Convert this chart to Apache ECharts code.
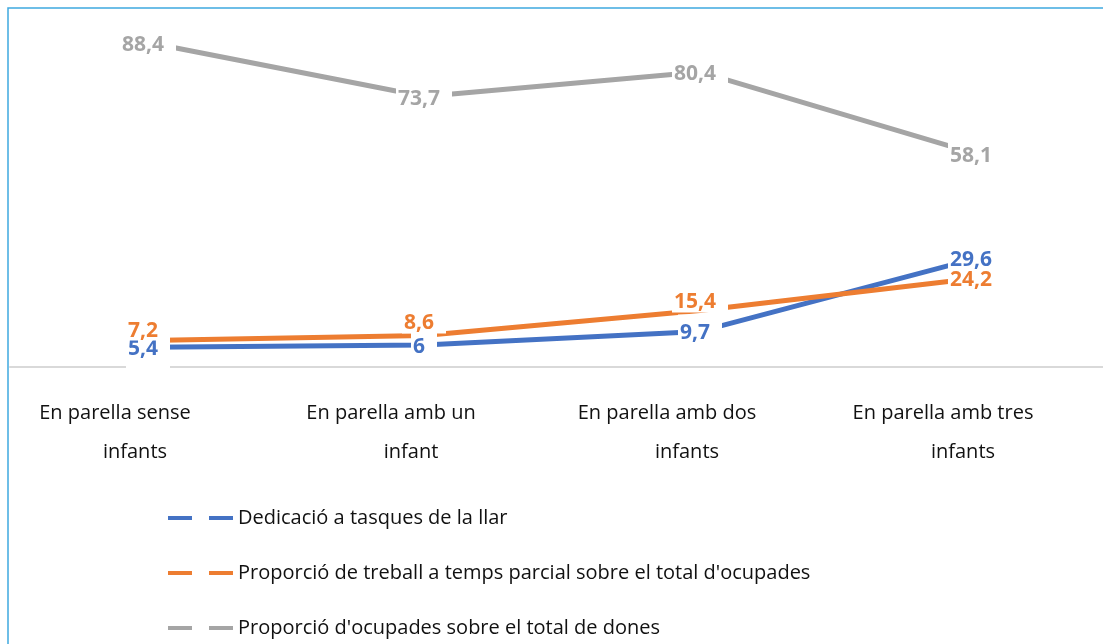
<!DOCTYPE html>
<html>
<head>
<meta charset="utf-8">
<script src="https://cdn.jsdelivr.net/npm/echarts@6/dist/echarts.min.js"></script>
<style>
  html, body { margin: 0; padding: 0; background: #fff; overflow: hidden; }
  .chart { width: 1114px; height: 644px; }
</style>
</head>
<body>
<div class="chart"></div>
<script>
// dades del gràfic
var categories = [
  ['En parella sense', 'infants'],
  ['En parella amb un', 'infant'],
  ['En parella amb dos', 'infants'],
  ['En parella amb tres', 'infants']
];
var seriesNames = [
  'Dedicació a tasques de la llar',
  "Proporció de treball a temps parcial sobre el total d'ocupades",
  "Proporció d'ocupades sobre el total de dones"
];
var tasquesLlar = [5.4, 6, 9.7, 29.6];
var tempsParcial = [7.2, 8.6, 15.4, 24.2];
var ocupades = [88.4, 73.7, 80.4, 58.1];

var colors = ['#4472C4', '#ED7D31', '#A5A5A5'];
var FONT = 'Open Sans';

var chart = echarts.init(document.getElementsByClassName('chart')[0]);

function fmt(v) {
  return String(v).replace('.', ',');
}

// línia sense etiquetes
function lineSeries(name, values, color) {
  return {
    name: name,
    type: 'line',
    z: 2,
    symbol: 'none',
    lineStyle: { color: color, width: 5 },
    itemStyle: { color: color },
    data: values,
    emphasis: { disabled: true }
  };
}

// etiquetes amb fons blanc, per sobre de totes les línies
function labelSeries(values, color, z, padding, offsets) {
  return {
    type: 'scatter',
    z: z,
    symbolSize: 1,
    itemStyle: { color: '#fff', opacity: 1 },
    silent: true,
    data: values.map(function (v, i) {
      var item = { value: v };
      if (offsets && offsets[i]) item.label = { offset: offsets[i] };
      return item;
    }),
    label: {
      show: true,
      position: 'inside',
      offset: [0, 2],
      color: color,
      opacity: 1,
      fontFamily: FONT,
      fontWeight: 'bold',
      fontSize: 21,
      lineHeight: 18,
      backgroundColor: '#fff',
      padding: padding,
      formatter: function (p) { return fmt(p.value); }
    },
    emphasis: { disabled: true }
  };
}

var option = {
  animation: false,
  graphic: [{
    type: 'rect',
    shape: { x: 8, y: 8, width: 1200, height: 700 },
    style: { fill: 'none', stroke: '#3FA9E0', lineWidth: 1.5 },
    silent: true
  }],
  grid: { left: 10, right: 0, top: 0, bottom: 277 },
  xAxis: {
    type: 'category',
    data: categories.map(function (c) { return c.join('\n'); }),
    boundaryGap: true,
    axisLine: { lineStyle: { color: '#D9D9D9', width: 2 } },
    axisTick: { show: false },
    axisLabel: {
      margin: 27,
      interval: 0,
      formatter: function (v) {
        var parts = v.split('\n');
        return '{a|' + parts[0] + '}\n{b|' + parts[1] + '}';
      },
      rich: {
        a: { fontFamily: FONT, fontSize: 20, color: '#111', lineHeight: 39, padding: [0, 66, 0, 0] },
        b: { fontFamily: FONT, fontSize: 20, color: '#111', lineHeight: 39, padding: [0, 26, 0, 0] }
      }
    }
  },
  yAxis: {
    type: 'value',
    min: 0,
    max: 100,
    show: false,
    splitLine: { show: false }
  },
  legend: {
    orient: 'vertical',
    left: 163,
    top: 501,
    height: 300,
    itemWidth: 65,
    itemHeight: 4,
    itemGap: 31,
    itemTextGap: 4,
    data: seriesNames.map(function (n) {
      return { name: n, icon: 'path://M0,0h24v4h-24z M41,0h24v4h-24z' };
    }),
    textStyle: { fontFamily: FONT, fontSize: 20, color: '#111', lineHeight: 24 }
  },
  series: [
    lineSeries(seriesNames[0], tasquesLlar, colors[0]),
    lineSeries(seriesNames[1], tempsParcial, colors[1]),
    lineSeries(seriesNames[2], ocupades, colors[2]),
    labelSeries(ocupades, colors[2], 10, [6, 12, 6, 2]),
    labelSeries(tasquesLlar, colors[0], 11, [0, 12, 20, 2]),
    labelSeries(tempsParcial, colors[1], 12, [1, 12, 1, 2], [[0, -10], [0, -12], [0, -8]])
  ]
};

chart.setOption(option);
</script>
</body>
</html>
